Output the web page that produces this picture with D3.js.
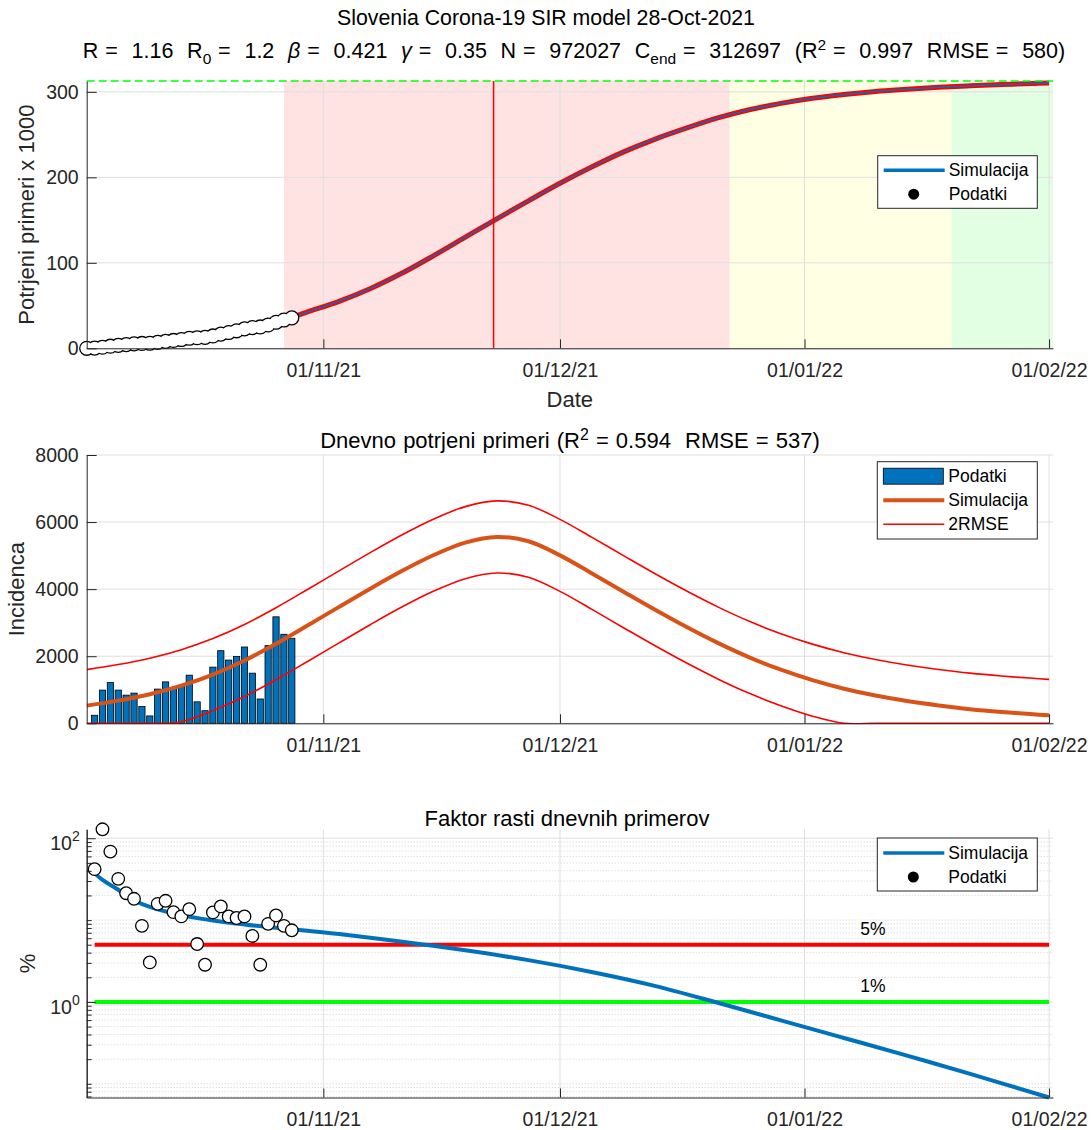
<!DOCTYPE html>
<html>
<head>
<meta charset="utf-8">
<script src="https://cdn.jsdelivr.net/npm/d3@7"></script>
<style>
  body { margin: 0; background: #fff; }
  svg text { font-family: "Liberation Sans", Arial, Helvetica, sans-serif; }
</style>
</head>
<body>
<svg id="chart" width="1091" height="1130"></svg>
<script>
// ── Données ────────────────────────────────────────────────────────────────
// observed days
const dataDates = ['2021-10-02','2021-10-03','2021-10-04','2021-10-05','2021-10-06','2021-10-07',
  '2021-10-08','2021-10-09','2021-10-10','2021-10-11','2021-10-12','2021-10-13','2021-10-14',
  '2021-10-15','2021-10-16','2021-10-17','2021-10-18','2021-10-19','2021-10-20','2021-10-21',
  '2021-10-22','2021-10-23','2021-10-24','2021-10-25','2021-10-26','2021-10-27','2021-10-28'];
// cumulative confirmed cases (x 1000), from 2021-10-02
const cumCases = [0, 0.24, 1.23, 2.44, 3.43, 4.27, 5.17, 5.66, 5.88, 6.90, 8.14, 9.19, 10.29,
  11.73, 12.36, 12.74, 14.42, 16.58, 18.47, 20.46, 22.74, 24.23, 24.96, 27.27, 30.45, 33.10, 35.64];
// daily cases, from 2021-10-03
const dailyCases = [240, 990, 1215, 990, 840, 900, 500, 220, 1020, 1235, 1050, 1100, 1435, 640,
  375, 1675, 2165, 1885, 1995, 2275, 1495, 725, 2315, 3175, 2655, 2535];
// growth factor of daily cases (%), from 2021-10-03
const growthData = [41.9, 128.6, 68.7, 31.9, 21.3, 18.2, 8.5, 3.04, 15.8, 17.2, 12.5, 11.1, 13.6,
  5.1, 2.85, 12.4, 14.7, 11.1, 10.6, 11.1, 6.4, 2.85, 9.0, 11.4, 8.5, 7.5];

// simulation, days after simBase
const simBase = '2021-10-02';
const simDay   = [0, 4, 8, 12, 16, 20, 24, 28, 32, 36, 40, 44, 48, 52, 56, 60, 64, 68, 72, 76,
  80, 84, 88, 92, 96, 100, 104, 108, 112, 116, 120, 122];
const simCum   = [0, 2.4, 5.5, 9.5, 14.6, 21.2, 30, 42.5, 55, 70, 88, 108.5, 130, 151.5, 172.5,
  193, 212, 229.5, 244.5, 257.5, 269.5, 279, 286.5, 292.5, 297, 300.5, 303, 305.3, 307, 308.5, 309.8, 310.4];
const simDaily = [527, 677, 867, 1122, 1452, 1872, 2372, 2917, 3472, 4022, 4547, 5017, 5387, 5557,
  5427, 5007, 4477, 3932, 3392, 2877, 2397, 1967, 1597, 1287, 1032, 827, 662, 532, 422, 337, 267, 237];
const simUpper = [1601, 1751, 1941, 2196, 2526, 2946, 3446, 3991, 4546, 5096, 5621, 6091, 6461, 6631,
  6501, 6081, 5551, 5006, 4466, 3951, 3471, 3041, 2671, 2361, 2106, 1901, 1736, 1606, 1496, 1411, 1341, 1311];
const simLower = [0, 0, 0, 48, 378, 798, 1298, 1843, 2398, 2948, 3473, 3943, 4313, 4483, 4353, 3933,
  3403, 2858, 2318, 1803, 1323, 893, 523, 213, 0, 0, 0, 0, 0, 0, 0, 0];
const growthDay = [1, 2, 4, 6, 8, 12, 16, 20, 24, 28, 32, 40, 48, 56, 64, 72, 80, 88, 96, 104, 112, 122];
const growthSim = [37.5, 31, 23.5, 17.5, 14.5, 11.5, 9.9, 8.85, 8.05, 7.4, 6.75, 5.43, 4.27, 3.24,
  2.32, 1.57, 0.977, 0.596, 0.363, 0.221, 0.132, 0.068];

const cEnd = 312.697;
const peakDate = '2021-11-22T14:00';
const zoneEdges = ['2021-10-27T00:00', '2021-12-22T12:00', '2022-01-19T16:00', '2022-02-01T12:00'];
const xTicks = ['2021-11-01', '2021-12-01', '2022-01-01', '2022-02-01'];
const topTicks = [0, 100, 200, 300];
const midTicks = [0, 2000, 4000, 6000, 8000];
const growthMajor = [1, 100];
const thresholds = [5, 1];

// ── Mise en page ───────────────────────────────────────────────────────────
const svg = d3.select('#chart');
const FONT = 19.5, TFONT = 22, LFONT = 17.5;
const AX = '#262626', GRID = '#dfdfdf';
const X0 = 86.7, X1 = 1053;

const pDay = d3.utcParse('%Y-%m-%d');
const pTime = d3.utcParse('%Y-%m-%dT%H:%M');
const base = pDay(simBase);
const dDates = dataDates.map(pDay);
const sDates = simDay.map(d => d3.utcDay.offset(base, d));
const gDates = growthDay.map(d => d3.utcDay.offset(base, d));
const tickDates = xTicks.map(pDay);

const x = d3.scaleUtc().domain([dDates[0], pTime(zoneEdges[3])]).range([X0, X1]);
const fmt = d3.utcFormat('%d/%m/%y');

const yTop = d3.scaleLinear().domain([0, cEnd]).range([348.3, 81]);
const yMid = d3.scaleLinear().domain([0, 8000]).range([723.3, 455]);
const yBot = d3.scaleLog().domain([0.068, 128.6]).range([1097.5, 829.3]);

const smooth = d3.curveCatmullRom.alpha(0.5);

function styleAxis(g) {
  g.attr('font-family', null).attr('font-size', FONT);
  g.select('.domain').attr('stroke', AX).attr('stroke-width', 1);
  g.selectAll('.tick line').attr('stroke', AX);
  g.selectAll('.tick text').attr('fill', AX);
}

function xAxis(y) {
  svg.append('g').attr('transform', `translate(0,${y.range()[0]})`)
    .call(d3.axisBottom(x).tickValues(tickDates).tickFormat(fmt)
      .tickSizeInner(-9).tickSizeOuter(0).tickPadding(15))
    .call(styleAxis);
}

function vGrid(y) {
  svg.append('g').selectAll('line').data(tickDates).join('line')
    .attr('x1', d => x(d)).attr('x2', d => x(d))
    .attr('y1', y.range()[0]).attr('y2', y.range()[1])
    .attr('stroke', GRID);
}

function hGrid(y, vals, dash) {
  svg.append('g').selectAll('line').data(vals).join('line')
    .attr('x1', X0).attr('x2', X1)
    .attr('y1', d => y(d)).attr('y2', d => y(d))
    .attr('stroke', dash ? '#d2d2d2' : GRID)
    .attr('stroke-dasharray', dash ? '1,2' : null);
}

function clipFor(id, y) {
  svg.append('clipPath').attr('id', id).append('rect')
    .attr('x', X0).attr('width', X1 - X0)
    .attr('y', y.range()[1] - 2).attr('height', y.range()[0] - y.range()[1] + 3);
  return `url(#${id})`;
}

function yLabel(text, cx, cy) {
  svg.append('text').attr('transform', `translate(${cx},${cy}) rotate(-90)`)
    .attr('text-anchor', 'middle').attr('dy', '0.35em')
    .attr('font-size', TFONT).attr('fill', AX).text(text);
}

function title(parts, y, cx, size, wordSp) {
  const t = svg.append('text').attr('x', cx).attr('y', y)
    .attr('text-anchor', 'middle').attr('font-size', size).attr('fill', '#000')
    .style('white-space', 'pre').style('word-spacing', (wordSp || 0) + 'px');
  let shift = 0;
  for (const p of parts) {
    const want = p.sub ? 6 : p.sup ? -8 : 0;
    const ts = t.append('tspan').attr('dy', want - shift).text(p.t);
    if (p.sub || p.sup) ts.attr('font-size', size * 0.72);
    if (p.it) ts.attr('font-style', 'italic');
    shift = want;
  }
}

function legend(x0, y0, w, h, items) {
  const g = svg.append('g').attr('transform', `translate(${x0},${y0})`);
  g.append('rect').attr('width', w).attr('height', h)
    .attr('fill', '#fff').attr('stroke', AX).attr('stroke-width', 1);
  items.forEach(it => {
    const cy = it.y;
    if (it.type === 'line') {
      g.append('line').attr('x1', 6).attr('x2', 67).attr('y1', cy).attr('y2', cy)
        .attr('stroke', it.color).attr('stroke-width', it.width);
    } else if (it.type === 'dot') {
      g.append('circle').attr('cx', 36).attr('cy', cy).attr('r', 5.5).attr('fill', '#000');
    } else {
      g.append('rect').attr('x', 6).attr('y', cy - 8).attr('width', 60).attr('height', 16)
        .attr('fill', '#0072BD').attr('stroke', '#000').attr('stroke-width', 0.8);
    }
    g.append('text').attr('x', 71).attr('y', cy).attr('dy', '0.35em')
      .attr('font-size', LFONT).attr('fill', '#000').text(it.label);
  });
}

// ── 1. Cumul ───────────────────────────────────────────────────────────────
const zoneColors = ['#ff0000', '#ffff00', '#00ff00'];
svg.append('g').selectAll('rect').data(zoneColors).join('rect')
  .attr('x', (d, i) => x(pTime(zoneEdges[i])))
  .attr('width', (d, i) => x(pTime(zoneEdges[i + 1])) - x(pTime(zoneEdges[i])))
  .attr('y', yTop.range()[1]).attr('height', yTop.range()[0] - yTop.range()[1])
  .attr('fill', d => d).attr('opacity', 0.11);
vGrid(yTop);
hGrid(yTop, topTicks);

const lineTop = d3.line().x(d => x(d[0])).y(d => yTop(d[1])).curve(smooth);
const cumPts = sDates.map((d, i) => [d, simCum[i]]);
svg.append('path').attr('d', lineTop(cumPts)).attr('fill', 'none')
  .attr('stroke', '#ff0000').attr('stroke-width', 5);
svg.append('path').attr('d', lineTop(cumPts)).attr('fill', 'none')
  .attr('stroke', '#0072BD').attr('stroke-width', 1.5);

svg.append('line').attr('x1', x(pTime(peakDate))).attr('x2', x(pTime(peakDate)))
  .attr('y1', yTop.range()[0]).attr('y2', yTop.range()[1])
  .attr('stroke', '#ff0000').attr('stroke-width', 1.5);

// markers overlap into a chain: outline layer first, white fills on top
const chain = svg.append('g');
chain.selectAll('circle.o').data(cumCases).join('circle').attr('class', 'o')
  .attr('cx', (d, i) => x(dDates[i])).attr('cy', d => yTop(d)).attr('r', 6.3)
  .attr('fill', '#fff').attr('stroke', '#000').attr('stroke-width', 2.6);
chain.selectAll('circle.f').data(cumCases).join('circle').attr('class', 'f')
  .attr('cx', (d, i) => x(dDates[i])).attr('cy', d => yTop(d)).attr('r', 6.3)
  .attr('fill', '#fff');

svg.append('line').attr('x1', X0).attr('x2', X1).attr('y1', yTop(cEnd)).attr('y2', yTop(cEnd))
  .attr('stroke', '#00ff00').attr('stroke-width', 1.5).attr('stroke-dasharray', '8,4');

svg.append('g').attr('transform', `translate(${X0},0)`)
  .call(d3.axisLeft(yTop).tickValues(topTicks).tickSizeInner(-10).tickSizeOuter(0).tickPadding(8))
  .call(styleAxis);
xAxis(yTop);
svg.append('text').attr('x', (X0 + X1) / 2).attr('y', 407).attr('text-anchor', 'middle')
  .attr('font-size', TFONT).attr('fill', AX).text('Date');
yLabel('Potrjeni primeri x 1000', 26, (yTop.range()[0] + yTop.range()[1]) / 2);

title([{ t: 'Slovenia Corona-19 SIR model 28-Oct-2021' }], 25, 546, 21.3);
title([
  { t: 'R =  1.16  R' }, { t: '0', sub: true }, { t: ' =  1.2  ' }, { t: 'β', it: true },
  { t: ' =  0.421  ' }, { t: 'γ', it: true }, { t: ' =  0.35  N =  972027  C' },
  { t: 'end', sub: true }, { t: ' =  312697  (R' }, { t: '2', sup: true },
  { t: ' =  0.997  RMSE =  580)' }
], 58, 574, 21.5, 0.9);

legend(877.7, 155.7, 159.6, 52.6, [
  { type: 'line', color: '#0072BD', width: 3.5, label: 'Simulacija', y: 14.5 },
  { type: 'dot', label: 'Podatki', y: 38.5 }
]);

// ── 2. Incidence ───────────────────────────────────────────────────────────
vGrid(yMid);
hGrid(yMid, midTicks);

const barW = x(d3.utcHour.offset(dDates[1], 19.2)) - x(dDates[1]);
svg.append('g').selectAll('rect').data(dailyCases).join('rect')
  .attr('x', (d, i) => x(dDates[i + 1]) - barW / 2)
  .attr('width', barW)
  .attr('y', d => yMid(d)).attr('height', d => yMid(0) - yMid(d))
  .attr('fill', '#0072BD').attr('stroke', '#000').attr('stroke-width', 0.8);

const midClip = clipFor('clip-mid', yMid);
const lineMid = d3.line().x(d => x(d[0])).y(d => yMid(d[1])).curve(smooth);
const midG = svg.append('g').attr('clip-path', midClip);
midG.append('path').attr('d', lineMid(sDates.map((d, i) => [d, simDaily[i]])))
  .attr('fill', 'none').attr('stroke', '#D95319').attr('stroke-width', 4);
for (const band of [simUpper, simLower]) {
  midG.append('path').attr('d', lineMid(sDates.map((d, i) => [d, band[i]])))
    .attr('fill', 'none').attr('stroke', '#ff0000').attr('stroke-width', 1.6);
}

svg.append('g').attr('transform', `translate(${X0},0)`)
  .call(d3.axisLeft(yMid).tickValues(midTicks).tickFormat(d3.format('d'))
    .tickSizeInner(-10).tickSizeOuter(0).tickPadding(8))
  .call(styleAxis);
xAxis(yMid);
yLabel('Incidenca', 16, (yMid.range()[0] + yMid.range()[1]) / 2);
title([{ t: 'Dnevno potrjeni primeri (R' }, { t: '2', sup: true }, { t: ' = 0.594  RMSE = 537)' }],
  448, 570, TFONT, 1);

legend(877.3, 461.7, 160, 77.3, [
  { type: 'bar', label: 'Podatki', y: 14.5 },
  { type: 'line', color: '#D95319', width: 4, label: 'Simulacija', y: 38.5 },
  { type: 'line', color: '#ff0000', width: 1.6, label: '2RMSE', y: 62.5 }
]);

// ── 3. Faktor rasti ────────────────────────────────────────────────────────
const minorVals = yBot.ticks().filter(v => !growthMajor.includes(v));
vGrid(yBot);
hGrid(yBot, minorVals, true);
hGrid(yBot, growthMajor);

svg.append('g').selectAll('line').data(thresholds).join('line')
  .attr('x1', x(dDates[1])).attr('x2', x(tickDates[3]))
  .attr('y1', d => yBot(d)).attr('y2', d => yBot(d))
  .attr('stroke', (d, i) => i === 0 ? '#ff0000' : '#00ff00').attr('stroke-width', 4);
const labelDate = pTime('2022-01-09T16:00');
svg.append('g').selectAll('text').data(thresholds).join('text')
  .attr('x', x(labelDate)).attr('y', d => yBot(d) - 10)
  .attr('text-anchor', 'middle').attr('font-size', LFONT).attr('fill', '#000')
  .text(d => d + '%');

const lineBot = d3.line().x(d => x(d[0])).y(d => yBot(d[1])).curve(smooth);
svg.append('path').attr('d', lineBot(gDates.map((d, i) => [d, growthSim[i]])))
  .attr('fill', 'none').attr('stroke', '#0072BD').attr('stroke-width', 4);

svg.append('g').selectAll('circle').data(growthData).join('circle')
  .attr('cx', (d, i) => x(dDates[i + 1])).attr('cy', d => yBot(d)).attr('r', 6.3)
  .attr('fill', '#fff').attr('stroke', '#000').attr('stroke-width', 1.3);

// log axis: minor ticks, then major ticks with 10^n labels
svg.append('g').attr('transform', `translate(${X0},0)`)
  .call(d3.axisLeft(yBot).tickValues(minorVals).tickFormat('').tickSizeInner(-5).tickSizeOuter(0))
  .call(styleAxis);
const major = svg.append('g').attr('transform', `translate(${X0},0)`)
  .call(d3.axisLeft(yBot).tickValues(growthMajor).tickFormat('').tickSizeInner(-9).tickSizeOuter(0))
  .call(styleAxis);
major.selectAll('.tick').each(function (d) {
  const t = d3.select(this).append('text').attr('x', -7).attr('y', 5).attr('dy', '0.32em')
    .attr('text-anchor', 'end').attr('font-size', FONT).attr('fill', AX);
  t.append('tspan').text('10');
  t.append('tspan').attr('dy', -9).attr('font-size', FONT * 0.72).text(Math.round(Math.log10(d)));
});
xAxis(yBot);
yLabel('%', 27, (yBot.range()[0] + yBot.range()[1]) / 2);
title([{ t: 'Faktor rasti dnevnih primerov' }], 826, 567, TFONT);

legend(877.3, 838, 160, 53, [
  { type: 'line', color: '#0072BD', width: 3.5, label: 'Simulacija', y: 15 },
  { type: 'dot', label: 'Podatki', y: 39 }
]);
</script>
</body>
</html>
